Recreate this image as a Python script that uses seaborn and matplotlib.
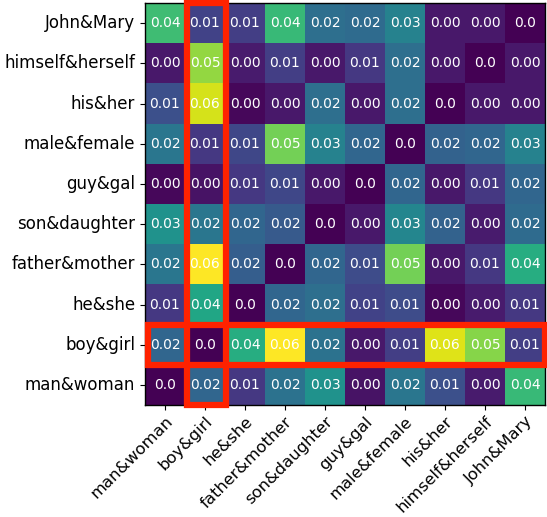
import numpy as np
import pandas as pd
import matplotlib
matplotlib.use("Agg")
import matplotlib.pyplot as plt
from matplotlib.patches import Rectangle
import seaborn as sns

row_labels = ["John&Mary", "himself&herself", "his&her", "male&female", "guy&gal",
              "son&daughter", "father&mother", "he&she", "boy&girl", "man&woman"]
col_labels = ["man&woman", "boy&girl", "he&she", "father&mother", "son&daughter",
              "guy&gal", "male&female", "his&her", "himself&herself", "John&Mary"]

john_mary       = [0.042, 0.012, 0.011, 0.041, 0.022, 0.021, 0.027, 0.004, 0.004, 0.0]
himself_herself = [0.004, 0.051, 0.0045, 0.011, 0.004, 0.010, 0.022, 0.004, 0.0, 0.004]
his_her         = [0.0148, 0.057, 0.001, 0.004, 0.022, 0.004, 0.022, 0.0, 0.004, 0.004]
male_female     = [0.024, 0.010, 0.013, 0.048, 0.027, 0.020, 0.0, 0.019, 0.020, 0.027]
guy_gal         = [0.001, 0.003, 0.010, 0.013, 0.004, 0.0, 0.020, 0.004, 0.010, 0.020]
son_daughter    = [0.031, 0.024, 0.020, 0.017, 0.0, 0.004, 0.028, 0.019, 0.0045, 0.021]
father_mother   = [0.024, 0.061, 0.018, 0.0, 0.020, 0.014, 0.048, 0.004, 0.010, 0.038]
he_she          = [0.010, 0.036, 0.0, 0.020, 0.022, 0.012, 0.014, 0.001, 0.0045, 0.010]
boy_girl        = [0.020, 0.0, 0.038, 0.061, 0.023, 0.004, 0.011, 0.058, 0.050, 0.011]
man_woman       = [0.0, 0.020, 0.010, 0.023, 0.031, 0.003, 0.024, 0.0148, 0.0045, 0.041]

values = np.array([john_mary, himself_herself, his_her, male_female, guy_gal,
                   son_daughter, father_mother, he_she, boy_girl, man_woman])
df = pd.DataFrame(values, index=row_labels, columns=col_labels)
annot = np.array([["0.0" if v == 0 else f"{v:.2f}" for v in row] for row in values])

fig = plt.figure(figsize=(5.47, 5.17), dpi=100)
ax = fig.add_axes([0.265, 0.2166, 0.7313, 0.7776])
sns.heatmap(df, ax=ax, cmap="viridis", cbar=False, annot=annot, fmt="",
            annot_kws={"fontsize": 10, "color": "white"})

for s in ax.spines.values():
    s.set_visible(True)
    s.set_color("black")
    s.set_linewidth(1.0)

ax.set_xticklabels(col_labels, rotation=45, ha="right", rotation_mode="anchor", fontsize=11.8)
ax.set_yticklabels(row_labels, rotation=0, fontsize=12)
ax.tick_params(length=3.5, width=0.8)
ax.tick_params(axis="x", pad=2.8)

hl = col_labels.index("boy&girl")
rl = row_labels.index("boy&girl")
ax.add_patch(Rectangle((hl + 0.04, 0), 0.98, len(row_labels), fill=False,
                       edgecolor="#ff2200", lw=4.5, clip_on=False, zorder=5))
ax.add_patch(Rectangle((0.08, rl), len(col_labels) - 0.08, 1, fill=False,
                       edgecolor="#ff2200", lw=4.5, clip_on=False, zorder=5))

fig.savefig("out.png", dpi=100)
